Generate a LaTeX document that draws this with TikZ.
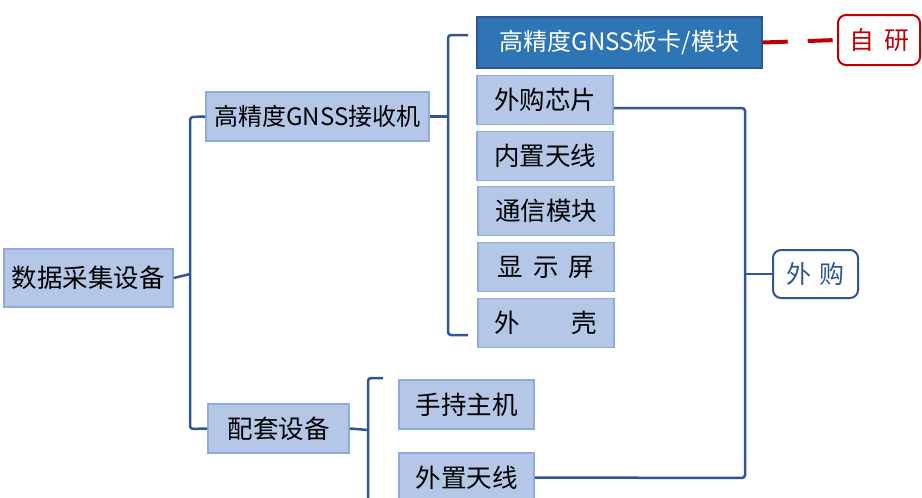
\documentclass[tikz,border=0pt]{standalone}
\usepackage{fontspec}
\newfontfamily\cjk{Noto Sans CJK SC}
\definecolor{boxfill}{HTML}{B4C7E7}
\definecolor{boxline}{HTML}{8FAADC}
\definecolor{linkblue}{HTML}{2F5597}
\definecolor{cardblue}{HTML}{2E75B6}
\definecolor{ownred}{HTML}{C00000}
\begin{document}
\begin{tikzpicture}[x=1pt,y=-1pt,
  box/.style={draw=boxline,fill=boxfill,line width=1.5pt,inner sep=0pt,
    minimum height=49pt,font=\cjk\fontsize{25.5}{30}\selectfont},
  latin/.style={font=\cjk\fontsize{24}{28}\selectfont},
  link/.style={draw=linkblue,line width=2.5pt,rounded corners=3pt},
  tag/.style={fill=white,rounded corners=8pt,line width=2pt,inner sep=0pt,
    minimum height=48pt,font=\cjk\fontsize{25}{30}\selectfont}]
\useasboundingbox (0,0) rectangle (922,498) ;
\node [box,minimum width=169pt,minimum height=58pt] (root) at (88.5,278) {数据采集设备} ;
\node [box,latin,minimum width=223pt] (gnss) at (317.5,116.5) {高精度GNSS接收机} ;
\node [box,minimum width=141pt] (kit) at (278.5,428.5) {配套设备} ;
\node [box,latin,draw=linkblue,fill=cardblue,text=white,minimum width=285pt,minimum height=51pt] (card) at (619.5,42.5) {高精度GNSS板卡/模块} ;
\node [box,minimum width=136pt] (chip) at (545,100) {外购芯片} ;
\node [box,minimum width=136pt] (antin) at (545,156) {内置天线} ;
\node [box,minimum width=136pt] (comm) at (546,211) {通信模块} ;
\node [box,minimum width=136pt] (screen) at (546,267) {显\hspace{10pt}示\hspace{10pt}屏} ;
\node [box,minimum width=136pt] (shell) at (546,323) {外\hspace{52pt}壳} ;
\node [box,minimum width=135pt] (hand) at (466.5,404.5) {手持主机} ;
\node [box,minimum width=135pt] (antout) at (466.5,477.5) {外置天线} ;
\node [tag,draw=linkblue,text=linkblue,minimum width=85pt] (buy) at (815.5,274) {外\hspace{8pt}购} ;
\node [tag,draw=ownred,text=ownred,minimum width=82pt,minimum height=50pt] (own) at (879,40) {自\hspace{10pt}研} ;
% brackets
\draw [link] (gnss.west) -- (190,117) -- (190,429) -- (kit.west) ;
\draw [link] (root.east) -- (190,274) ;
\coordinate (gtop) at (468,35) ;
\coordinate (gbot) at (468,335) ;
\draw [link] (gtop) -- (448,35) -- (448,335) -- (gbot) ;
\draw [link] (gnss.east) -- (448,116.5) ;
\coordinate (ktop) at (383,378) ;
\coordinate (kbot) at (368,510) ;
\draw [link] (ktop) -- (368,378) -- (kbot) ;
\draw [link] (kit.east) -- (368,430) ;
% bought parts
\coordinate (bus) at (745,274) ;
\draw [link] ([yshift=-8pt]chip.east) -- (745,108) -- (745,478) -- (antout.east) ;
\draw [link] (bus) -- (buy.west) ;
\draw [ownred,line width=4pt,dash pattern=on 25pt off 20pt] (card.east) -- (own.west) ;
\end{tikzpicture}
\end{document}
